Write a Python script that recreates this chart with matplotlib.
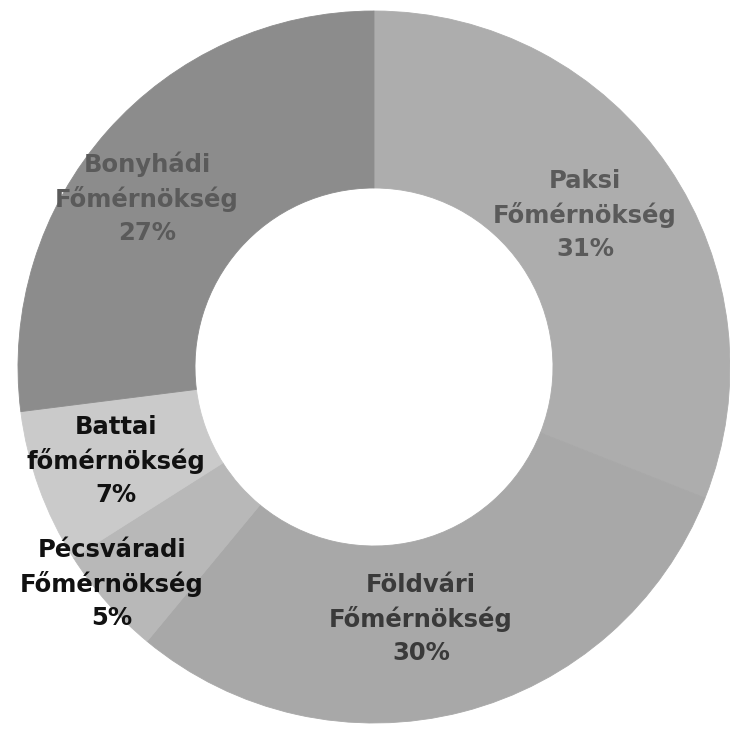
import matplotlib
matplotlib.use("Agg")
import matplotlib.pyplot as plt

names = ["Paksi\nFőmérnökség", "Földvári\nFőmérnökség", "Pécsváradi\nFőmérnökség",
         "Battai\nfőmérnökség", "Bonyhádi\nFőmérnökség"]
values = [31, 30, 5, 7, 27]
colors = ["#adadad", "#a8a8a8", "#b8b8b8", "#cacaca", "#8c8c8c"]
text_colors = ["#5a5a5a", "#3a3a3a", "#111111", "#111111", "#5a5a5a"]
# label anchor positions in pixels (x from left, y from top)
label_pos = [(585, 215), (421, 619), (112, 584), (116, 461), (147, 198)]

W, H = 730, 731
fig = plt.figure(figsize=(W / 100, H / 100), dpi=100)
ax = fig.add_axes([0, 0, 1, 1])

cx, cy = 374, H - 367
R = 356
inner = 179

wedges, _ = ax.pie(values, colors=colors, startangle=90, counterclock=False,
                   radius=R, center=(cx, cy), frame=True,
                   wedgeprops=dict(width=R - inner, linewidth=0.6))
for w, c in zip(wedges, colors):
    w.set_edgecolor(c)
ax.set_xlim(0, W)
ax.set_ylim(0, H)
ax.set_aspect("equal")
ax.axis("off")

for i, v in enumerate(values):
    px, py = label_pos[i]
    ax.text(px, H - py, f"{names[i]}\n{v}%", ha="center", va="center",
            fontsize=17.5, color=text_colors[i], linespacing=1.45,
            family="DejaVu Sans", fontweight="bold")

fig.savefig("out.png", dpi=100)
